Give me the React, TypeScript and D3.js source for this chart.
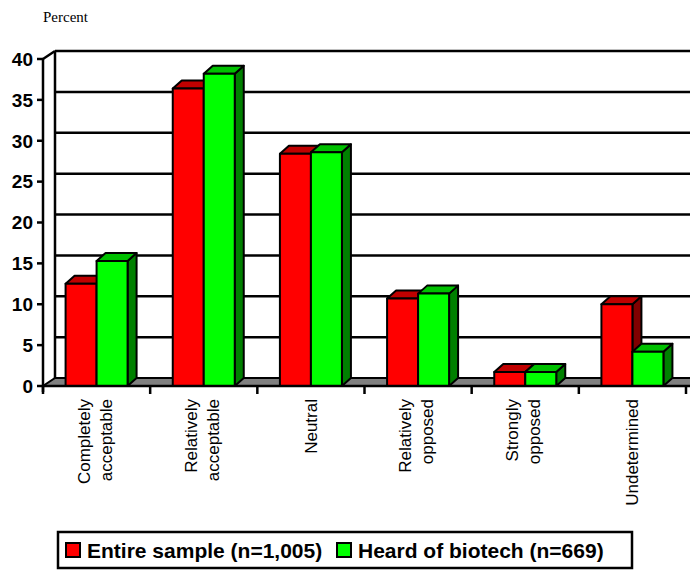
import React, { useEffect, useRef } from 'react';
import * as d3 from 'd3';

// categories (label lines) and the two series
const categories = ['Completely acceptable', 'Relatively acceptable', 'Neutral', 'Relatively opposed', 'Strongly opposed', 'Undetermined'];
const categoryLines = [
  ['Completely', 'acceptable'],
  ['Relatively', 'acceptable'],
  ['Neutral'],
  ['Relatively', 'opposed'],
  ['Strongly', 'opposed'],
  ['Undetermined'],
];
const seriesNames = ['Entire sample (n=1,005)', 'Heard of biotech (n=669)'];
const entireSample = [12.5, 36.4, 28.4, 10.7, 1.7, 10.0];
const heardOfBiotech = [15.3, 38.2, 28.6, 11.3, 1.7, 4.2];
const yTicks = [0, 5, 10, 15, 20, 25, 30, 35, 40];

const colors = [
  { front: '#ff0000', top: '#c00000', side: '#800000' },
  { front: '#00ff00', top: '#00c000', side: '#008000' },
];

const App = () => {
  const ref = useRef<SVGSVGElement>(null);

  useEffect(() => {
    const svg = d3.select(ref.current);
    svg.selectAll('*').remove();

    const W = 690;
    const wallDx = 12, wallDy = -8; // depth of the walls
    const barDx = 9, barDy = -8; // depth of the columns

    const x = d3.scaleBand().domain(categories).range([43, 686]).padding(0);
    const y = d3.scaleLinear().domain([0, 40]).range([386, 59]);
    const series = d3.scaleBand().domain(['0', '1']).range([-31, 31]);

    const g = svg.append('g');

    // back wall grid lines
    g.selectAll('line.grid')
      .data(yTicks.filter(t => t > 0))
      .enter()
      .append('line')
      .attr('x1', 43 + wallDx)
      .attr('x2', W + 5)
      .attr('y1', d => y(d) + wallDy)
      .attr('y2', d => y(d) + wallDy)
      .attr('stroke', 'black')
      .attr('stroke-width', 2.5);

    // left wall
    g.append('line')
      .attr('x1', 43 + wallDx).attr('x2', 43 + wallDx)
      .attr('y1', y(0) + wallDy).attr('y2', y(40) + wallDy)
      .attr('stroke', 'black').attr('stroke-width', 2.5);
    g.append('line')
      .attr('x1', 43).attr('y1', y(40))
      .attr('x2', 43 + wallDx).attr('y2', y(40) + wallDy)
      .attr('stroke', 'black').attr('stroke-width', 2.5);

    // floor
    g.append('path')
      .attr('d', `M43,${y(0)} L${W + 20},${y(0)} L${W + 20 + wallDx},${y(0) + wallDy} L${43 + wallDx},${y(0) + wallDy} Z`)
      .attr('fill', '#808080')
      .attr('stroke', 'black')
      .attr('stroke-width', 2);

    // columns
    const data = [entireSample, heardOfBiotech];
    categories.forEach((c, i) => {
      const cx = (x(c) as number) + x.bandwidth() / 2;
      data.forEach((vals, s) => {
        const x0 = cx + (series(String(s)) as number);
        const x1 = x0 + series.bandwidth();
        const yt = y(vals[i]);
        const yb = y(0);
        const col = colors[s];
        const bar = g.append('g')
          .attr('stroke', 'black')
          .attr('stroke-width', 2)
          .attr('stroke-linejoin', 'round');
        bar.append('path')
          .attr('d', `M${x1},${yb} L${x1 + barDx},${yb + barDy} L${x1 + barDx},${yt + barDy} L${x1},${yt} Z`)
          .attr('fill', col.side);
        bar.append('path')
          .attr('d', `M${x0},${yt} L${x0 + barDx},${yt + barDy} L${x1 + barDx},${yt + barDy} L${x1},${yt} Z`)
          .attr('fill', col.top);
        bar.append('rect')
          .attr('x', x0).attr('y', yt)
          .attr('width', x1 - x0).attr('height', yb - yt)
          .attr('fill', col.front);
      });
    });

    // y axis
    g.append('line')
      .attr('x1', 43).attr('x2', 43)
      .attr('y1', y(40) - 1).attr('y2', y(0) + 6)
      .attr('stroke', 'black').attr('stroke-width', 2.5);
    g.selectAll('line.ytick')
      .data(yTicks)
      .enter()
      .append('line')
      .attr('x1', 37).attr('x2', 43)
      .attr('y1', d => y(d)).attr('y2', d => y(d))
      .attr('stroke', 'black').attr('stroke-width', 2.5);
    g.selectAll('text.ytick')
      .data(yTicks)
      .enter()
      .append('text')
      .attr('x', 33)
      .attr('y', d => y(d))
      .attr('dy', '0.36em')
      .attr('text-anchor', 'end')
      .attr('font-family', 'Liberation Sans, Arial, sans-serif')
      .attr('font-weight', 'bold')
      .attr('font-size', 19)
      .text(d => d);

    // x axis
    g.append('line')
      .attr('x1', 43).attr('x2', W + 5)
      .attr('y1', y(0)).attr('y2', y(0))
      .attr('stroke', 'black').attr('stroke-width', 2.5);
    const edges = categories.map(c => x(c) as number).concat([x.range()[1]]);
    g.selectAll('line.xtick')
      .data(edges)
      .enter()
      .append('line')
      .attr('x1', d => d).attr('x2', d => d)
      .attr('y1', y(0)).attr('y2', y(0) + 8)
      .attr('stroke', 'black').attr('stroke-width', 2.5);

    // rotated category labels
    categories.forEach((c, i) => {
      const cx = (x(c) as number) + x.bandwidth() / 2;
      const lines = categoryLines[i];
      lines.forEach((ln, k) => {
        const off = lines.length === 1 ? 6 : (k === 0 ? -7 : 15);
        g.append('text')
          .attr('transform', `translate(${cx + off},399) rotate(-90)`)
          .attr('text-anchor', 'end')
          .attr('font-family', 'Liberation Sans, Arial, sans-serif')
          .attr('font-size', 17)
          .text(ln);
      });
    });

    // axis title
    g.append('text')
      .attr('x', 43).attr('y', 22)
      .attr('font-family', 'Liberation Serif, Times New Roman, serif')
      .attr('font-size', 15)
      .text('Percent');

    // legend
    const lg = g.append('g');
    lg.append('rect')
      .attr('x', 58).attr('y', 532).attr('width', 574).attr('height', 36)
      .attr('fill', 'white').attr('stroke', 'black').attr('stroke-width', 2.5);
    const legendX = [66, 337];
    seriesNames.forEach((name, s) => {
      lg.append('rect')
        .attr('x', legendX[s]).attr('y', 543).attr('width', 14).attr('height', 14)
        .attr('fill', colors[s].front).attr('stroke', 'black').attr('stroke-width', 2);
      lg.append('text')
        .attr('x', legendX[s] + 21).attr('y', 558)
        .attr('font-family', 'Liberation Sans, Arial, sans-serif')
        .attr('font-weight', 'bold')
        .attr('font-size', 21)
        .text(name);
    });
  }, []);

  return (
    <svg
      ref={ref}
      width={690}
      height={571}
      style={{ position: 'absolute', left: 0, top: 0, background: 'white' }}
    />
  );
};

export default App;
